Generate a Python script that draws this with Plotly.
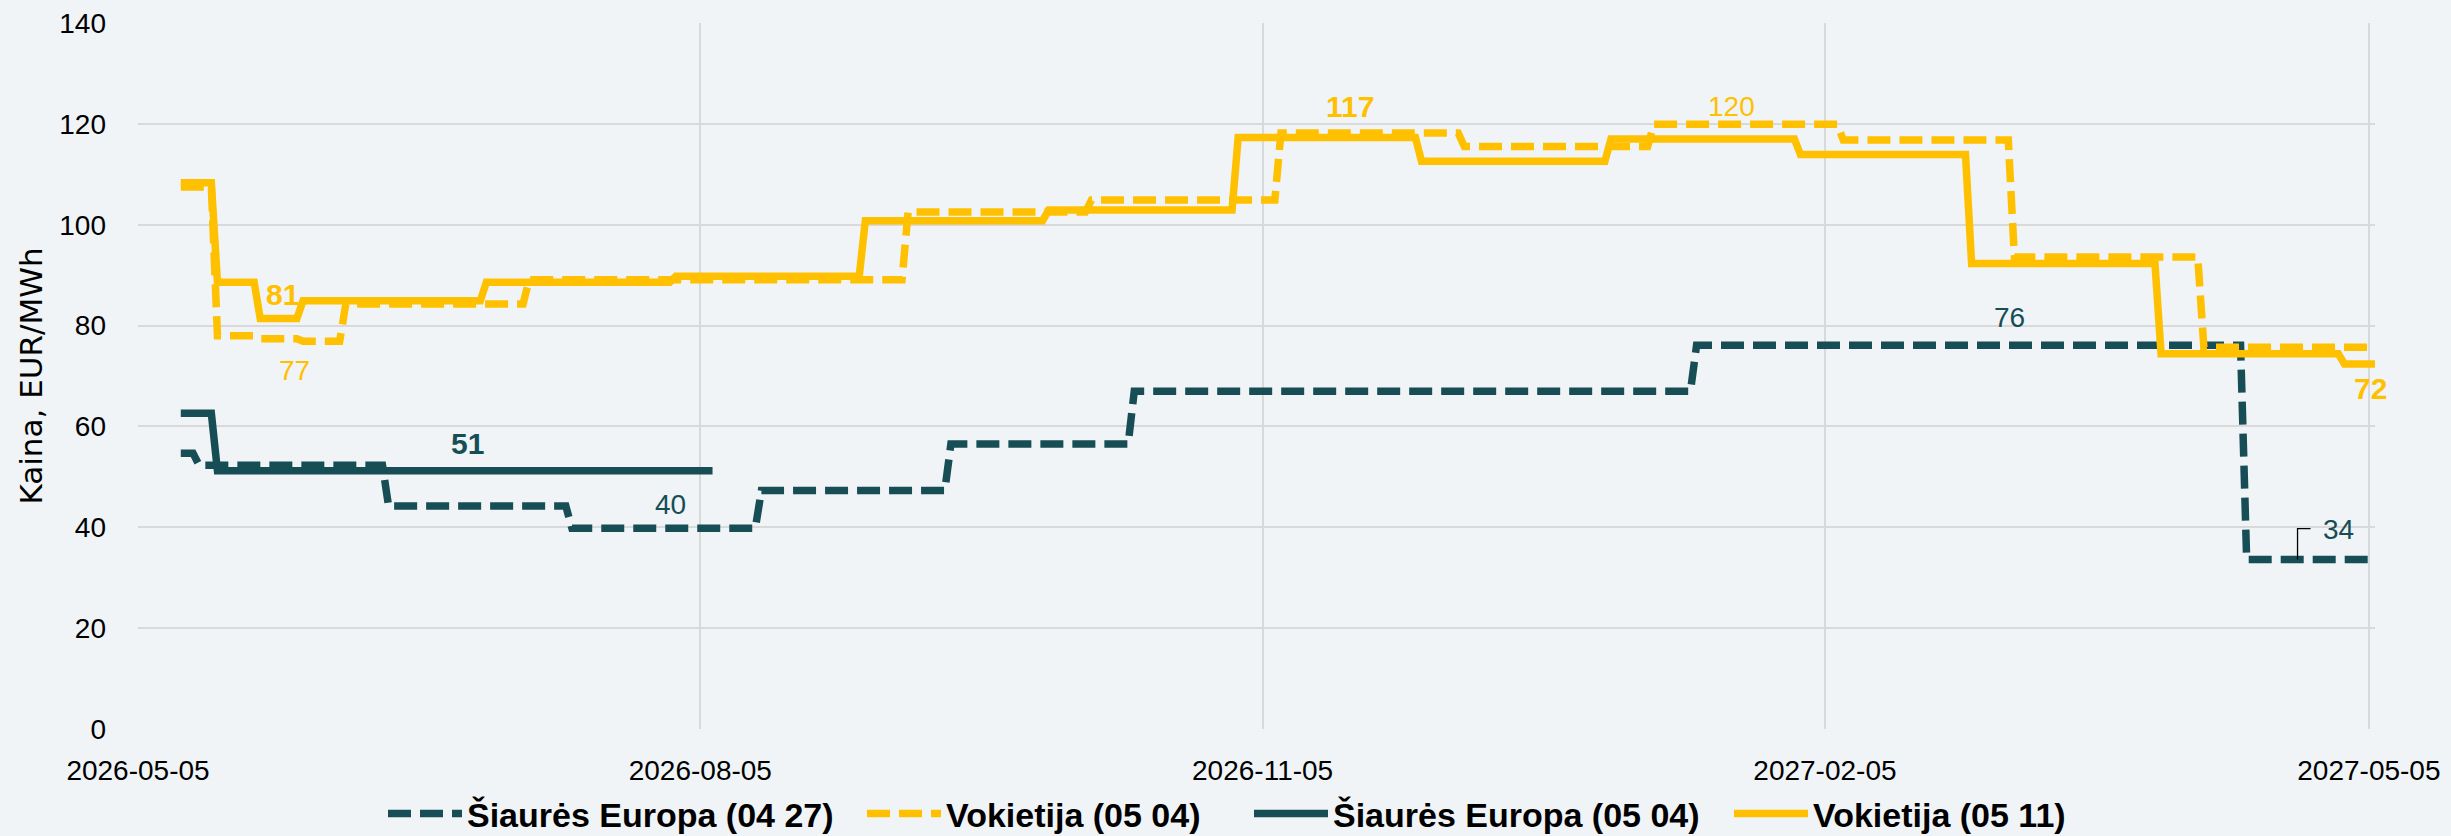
import pandas as pd
import plotly.graph_objects as go

# ---------------- data ----------------
END_DATE = "2027-05-06"

# Šiaurės Europa (04 27) – segment start dates and prices (EUR/MWh)
se0427_start = ["2026-05-12", "2026-05-15", "2026-06-15", "2026-07-15", "2026-08-15",
                "2026-09-15", "2026-10-15", "2027-01-15", "2027-04-15"]
se0427_val = [54.7, 52.3, 44.2, 39.8, 47.3, 56.5, 67.0, 76.1, 33.6]
se0427_end = END_DATE

# Vokietija (05 04)
de0504_start = ["2026-05-12", "2026-05-18", "2026-05-25", "2026-06-01", "2026-06-08",
                "2026-07-08", "2026-09-08", "2026-10-08", "2026-11-08", "2026-12-08",
                "2027-01-08", "2027-02-08", "2027-03-08", "2027-04-08"]
de0504_val = [107.5, 78.0, 77.4, 76.9, 84.3, 89.1, 102.5, 104.9, 118.2, 115.5,
              119.9, 116.8, 93.6, 75.7]
de0504_end = END_DATE

# Šiaurės Europa (05 04)
se0504_start = ["2026-05-12", "2026-05-18"]
se0504_val = [62.6, 51.2]
se0504_end = "2026-08-07"

# Vokietija (05 11)
de0511_start = ["2026-05-12", "2026-05-18", "2026-05-25", "2026-06-01", "2026-07-01",
                "2026-08-01", "2026-09-01", "2026-10-01", "2026-11-01", "2026-12-01",
                "2027-01-01", "2027-02-01", "2027-03-01", "2027-04-01", "2027-05-01"]
de0511_val = [108.3, 88.6, 81.4, 84.9, 88.6, 89.8, 100.8, 102.9, 117.3, 112.6,
              117.0, 113.9, 92.3, 74.4, 72.4]
de0511_end = END_DATE

x_tick_vals = ["2026-05-05", "2026-08-05", "2026-11-05", "2027-02-05", "2027-05-05"]
x_tick_text = ["2026-05-05", "2026-08-05", "2026-11-05", "2027-02-05", "2027-05-05"]
y_tick_vals = [0, 20, 40, 60, 80, 100, 120, 140]

# ---------------- styling ----------------
W, H = 2451, 836
YELLOW = "#FFC000"
TEAL = "#174E55"
BG = "#F0F4F7"
GRID = "#D9D9D9"
FONT = "Liberation Sans, Arial, sans-serif"
TITLE_FONT = "DejaVu Sans, Verdana, sans-serif"
DASH = "23px,9px"
LW = 7.5
LEGEND_LEFT_PX = [383, 862, 1249, 1729]   # left edge of each legend entry


def step_points(starts, values, end):
    """Each daily-priced segment runs from its start date to the day before the next one."""
    s = pd.to_datetime(starts)
    ends = list(s[1:] - pd.Timedelta(days=1)) + [pd.Timestamp(end)]
    xs, ys = [], []
    for a, b, v in zip(s, ends, values):
        xs += [a, b]
        ys += [v, v]
    return xs, ys


def value_at(starts, values, date):
    d = pd.Timestamp(date)
    v = values[0]
    for s, val in zip(pd.to_datetime(starts), values):
        if s <= d:
            v = val
    return v


series = [
    ("Šiaurės Europa (04 27)", se0427_start, se0427_val, se0427_end, TEAL, DASH),
    ("Vokietija (05 04)", de0504_start, de0504_val, de0504_end, YELLOW, DASH),
    ("Šiaurės Europa (05 04)", se0504_start, se0504_val, se0504_end, TEAL, "solid"),
    ("Vokietija (05 11)", de0511_start, de0511_val, de0511_end, YELLOW, "solid"),
]
legend_ids = ["legend", "legend2", "legend3", "legend4"]

fig = go.Figure()
for (name, st, vals, end, color, dash), lg in zip(series, legend_ids):
    xs, ys = step_points(st, vals, end)
    fig.add_trace(go.Scatter(
        x=xs, y=ys, mode="lines", name=name, legend=lg,
        line=dict(color=color, width=LW, dash=dash),
        hoverinfo="skip",
    ))

# data labels: (series index, anchor date, xshift, yshift, bold)
label_specs = [
    (3, "2026-05-29", -2, 24, True),
    (1, "2026-05-30", 4, -32, False),
    (2, "2026-06-28", -1, 27, True),
    (0, "2026-07-31", 1, 24, False),
    (3, "2026-11-19", 2, 31, True),
    (1, "2027-01-21", -2, 18, False),
    (0, "2027-03-07", 1, 28, False),
    (3, "2027-05-05", 2, -25, True),
    (0, "2027-04-23", 43, 30, False),
]
for idx, date, dx, dy, bold in label_specs:
    name, st, vals, end, color, dash = series[idx]
    v = value_at(st, vals, date)
    fig.add_annotation(
        x=date, y=v, text=f"{round(v)}", showarrow=False,
        xshift=dx, yshift=dy, xanchor="center", yanchor="middle",
        font=dict(family=FONT, size=30 if bold else 28, color=color,
                  weight="bold" if bold else "normal"),
    )

# leader line for the "34" label
lead_date = "2027-04-23"
lead_val = value_at(se0427_start, se0427_val, lead_date)
fig.add_shape(
    type="path", xref="x", yref="y", xsizemode="pixel", ysizemode="pixel",
    xanchor=lead_date, yanchor=lead_val,
    path="M2,0 L2,31 L15,31", line=dict(color="black", width=1.3),
)

legend_common = dict(
    orientation="h", xref="container", yref="container",
    xanchor="left", y=0.0265, yanchor="middle",
    font=dict(family=FONT, size=34, color="black", weight="bold"),
    itemwidth=74, bgcolor="rgba(0,0,0,0)",
)
legend_layout = {lg: dict(legend_common, x=px / W) for lg, px in zip(legend_ids, LEGEND_LEFT_PX)}

fig.update_layout(
    width=W, height=H,
    margin=dict(l=138, r=76, t=23, b=107, autoexpand=False),
    paper_bgcolor=BG, plot_bgcolor=BG,
    showlegend=True,
    **legend_layout,
    xaxis=dict(
        type="date", range=["2026-05-05", END_DATE],
        tickmode="array", tickvals=x_tick_vals, ticktext=x_tick_text,
        showgrid=True, gridcolor=GRID, gridwidth=2,
        zeroline=False, showline=False, ticks="",
        tickfont=dict(family=FONT, size=28, color="black"),
        ticklabelstandoff=22, automargin=False,
    ),
    yaxis=dict(
        range=[0, 140], tickmode="array", tickvals=y_tick_vals,
        showgrid=True, gridcolor=GRID, gridwidth=2,
        zeroline=False, showline=False, ticks="",
        tickfont=dict(family=FONT, size=28, color="black"),
        ticklabelstandoff=31, automargin=False,
        title=dict(text="Kaina, EUR/MWh", standoff=7,
                   font=dict(family=TITLE_FONT, size=31, color="black")),
    ),
)

# remove the browser's default 8px page margin so the figure fills the window exactly
fig.write_html(
    "out.html",
    config={"displayModeBar": False, "staticPlot": False},
    post_script="document.body.style.margin='0px';",
)
